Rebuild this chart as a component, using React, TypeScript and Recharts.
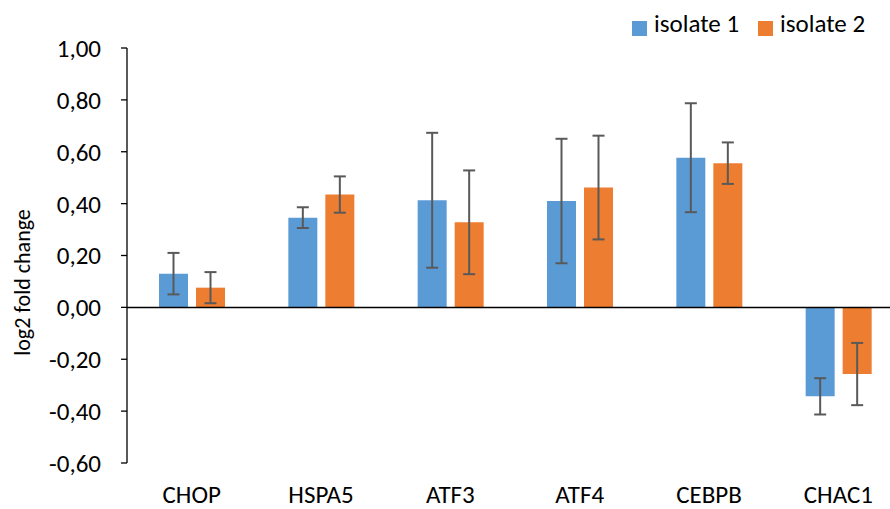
import { BarChart, Bar, XAxis, YAxis, ErrorBar, ReferenceLine, Legend, Label } from 'recharts'

const genes = ['CHOP', 'HSPA5', 'ATF3', 'ATF4', 'CEBPB', 'CHAC1']
const isolate1 = [0.13, 0.346, 0.413, 0.41, 0.577, -0.343]
const isolate1Err = [0.08, 0.04, 0.26, 0.24, 0.21, 0.07]
const isolate2 = [0.076, 0.435, 0.328, 0.462, 0.556, -0.257]
const isolate2Err = [0.06, 0.07, 0.2, 0.2, 0.08, 0.12]
const yTicks = [-0.6, -0.4, -0.2, 0, 0.2, 0.4, 0.6, 0.8, 1]

const data = genes.map((gene, i) => ({
  gene,
  isolate1: isolate1[i],
  e1: isolate1Err[i],
  isolate2: isolate2[i],
  e2: isolate2Err[i],
}))

const FONT = 'Carlito, Calibri, Lato, sans-serif'
const FS = 25
const fmt = (v: number) => v.toFixed(2).replace('.', ',')

export default function App() {
  return (
    <div style={{ position: 'fixed', left: 0, top: 0, width: 890, height: 509, overflow: 'hidden', background: '#fff', fontFamily: FONT }}>
      <BarChart
        width={910}
        height={509}
        data={data}
        margin={{ top: 14, right: 7, bottom: 6, left: 0 }}
        barSize={29}
        barGap={8}
      >
        <XAxis
          dataKey="gene"
          axisLine={false}
          tickLine={false}
          tickSize={0}
          tickMargin={22}
          height={40}
          interval={0}
          tick={{ fill: '#000', fontSize: FS, fontFamily: FONT }}
        />
        <YAxis
          width={127}
          domain={[-0.6, 1]}
          ticks={yTicks}
          tickFormatter={fmt}
          interval={0}
          tickSize={6}
          tickMargin={20}
          axisLine={{ stroke: '#000', strokeWidth: 1.3 }}
          tickLine={{ stroke: '#000', strokeWidth: 1.3 }}
          tick={{ fill: '#000', fontSize: FS, fontFamily: FONT }}
        >
          <Label value="log2 fold change" angle={-90} position="center" dx={-41} dy={27} style={{ fill: '#000', fontSize: 22, fontFamily: FONT }} />
        </YAxis>
        <ReferenceLine y={0} stroke="#000" strokeWidth={1.5} />
        <Legend
          verticalAlign="top"
          align="left"
          iconType="square"
          iconSize={15}
          wrapperStyle={{ top: 8, left: 632, width: 280, height: 34, overflow: 'hidden' }}
          formatter={(value: string) => (
            <span style={{ color: '#000', fontSize: FS, fontFamily: FONT, marginLeft: 3, marginRight: 9 }}>{value}</span>
          )}
        />
        <Bar dataKey="isolate1" name="isolate 1" fill="#5B9BD5" isAnimationActive={false}>
          <ErrorBar dataKey="e1" width={6} strokeWidth={2} stroke="#595959" direction="y" />
        </Bar>
        <Bar dataKey="isolate2" name="isolate 2" fill="#ED7D31" isAnimationActive={false}>
          <ErrorBar dataKey="e2" width={6} strokeWidth={2} stroke="#595959" direction="y" />
        </Bar>
      </BarChart>
    </div>
  )
}
